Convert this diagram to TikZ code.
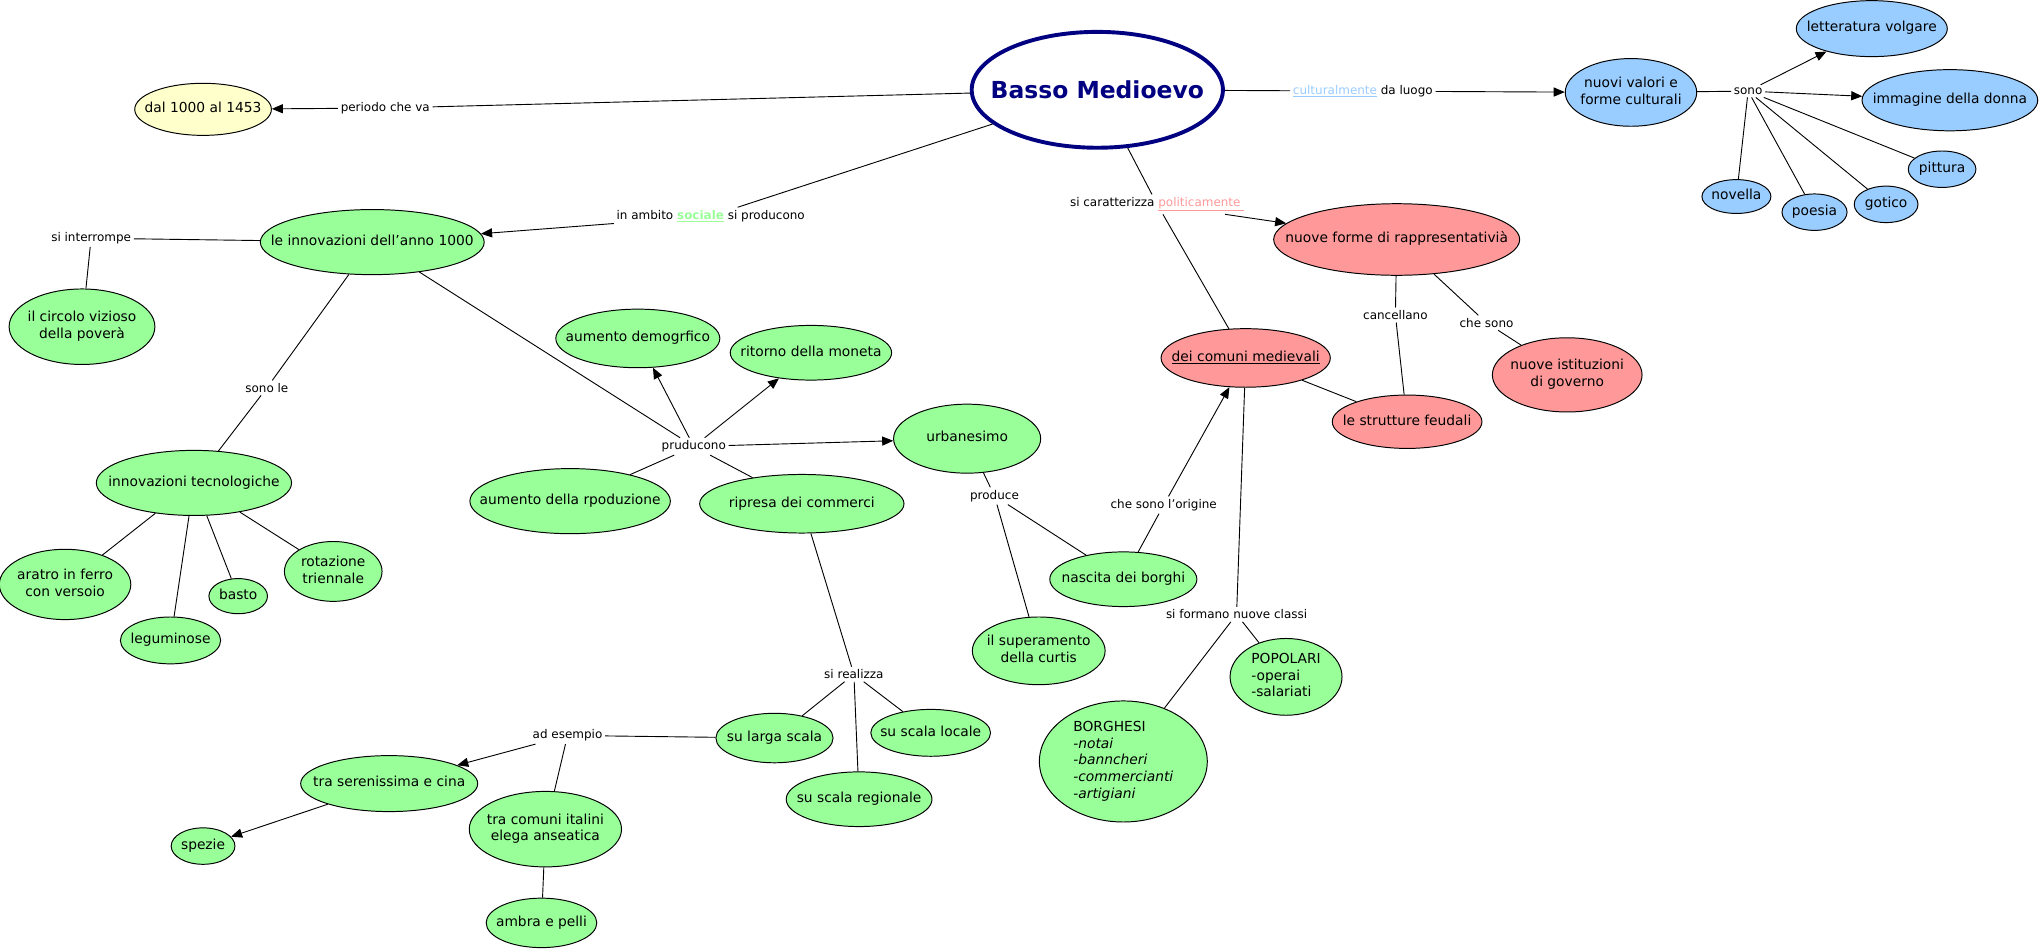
\documentclass[tikz,border=0pt]{standalone}
\usepackage{fontspec}
\setmainfont{DejaVu Sans}
\usetikzlibrary{shapes.geometric,arrows.meta}
\definecolor{verde}{RGB}{153,255,153}
\definecolor{rosa}{RGB}{255,153,153}
\definecolor{azzurro}{RGB}{153,204,255}
\definecolor{giallo}{RGB}{255,255,204}
\definecolor{blu}{RGB}{0,0,128}
\newcommand{\conceptfont}{\fontsize{10.6}{12.8}\selectfont}
\newcommand{\linkingfont}{\fontsize{9.2}{11}\selectfont}
\newcommand{\ctext}[1]{\makebox[0pt]{\begin{tabular}{@{}c@{}}#1\end{tabular}}}
\newcommand{\ltext}[1]{\makebox[0pt]{\begin{tabular}{@{}l@{}}#1\end{tabular}}}
\tikzset{
  concept/.style={ellipse, draw, line width=0.75pt, inner sep=0pt, font=\conceptfont},
  cgreen/.style={concept, fill=verde},
  cpink/.style={concept, fill=rosa},
  cblue/.style={concept, fill=azzurro},
  link/.style={font=\linkingfont, inner sep=2pt},
  conn/.style={line width=0.7pt},
  arr/.style={conn, -{Triangle[length=8.5pt,width=7pt]}}
}

\begin{document}
\begin{tikzpicture}[x=1pt,y=-1pt]
\useasboundingbox (0,0) rectangle (1568,730);
% concetti
\node[concept, draw=blu, line width=3pt, fill=white, minimum width=193pt, minimum height=89pt,
  font=\fontsize{18}{22}\selectfont\bfseries, text=blu] (basso) at (843,69) {\makebox[0pt]{Basso Medioevo}};
\node[concept, fill=giallo, minimum width=105pt, minimum height=40pt] (dal) at (156,84) {\ctext{dal 1000 al 1453}};
\node[cgreen, minimum width=172pt, minimum height=50pt] (innov) at (286,186) {\ctext{le innovazioni dell'anno 1000}};
\node[cgreen, minimum width=112pt, minimum height=58pt] (circolo) at (63,251) {\ctext{il circolo vizioso\\della poverà}};
\node[cgreen, minimum width=150pt, minimum height=50pt] (tecno) at (149,371) {\ctext{innovazioni tecnologiche}};
\node[cgreen, minimum width=101pt, minimum height=54pt] (aratro) at (50,449) {\ctext{aratro in ferro\\con versoio}};
\node[cgreen, minimum width=77pt, minimum height=36pt] (legum) at (131,492) {\ctext{leguminose}};
\node[cgreen, minimum width=45pt, minimum height=27pt] (basto) at (183,458) {\ctext{basto}};
\node[cgreen, minimum width=75pt, minimum height=46pt] (rotaz) at (256,439) {\ctext{rotazione\\triennale}};
\node[cgreen, minimum width=126pt, minimum height=45pt] (demog) at (490,260) {\ctext{aumento demogrfico}};
\node[cgreen, minimum width=124pt, minimum height=42pt] (moneta) at (623,271) {\ctext{ritorno della moneta}};
\node[cgreen, minimum width=113pt, minimum height=53pt] (urbano) at (743,337) {\ctext{urbanesimo}};
\node[cgreen, minimum width=154pt, minimum height=50pt] (produz) at (438,385) {\ctext{aumento della rpoduzione}};
\node[cgreen, minimum width=157pt, minimum height=45pt] (commerci) at (616,387) {\ctext{ripresa dei commerci}};
\node[cgreen, minimum width=113pt, minimum height=42pt] (borghi) at (863,445) {\ctext{nascita dei borghi}};
\node[cgreen, minimum width=102pt, minimum height=52pt] (curtis) at (798,500) {\ctext{il superamento\\della curtis}};
\node[cgreen, minimum width=129pt, minimum height=93pt] (borghesi) at (863,585)
  {\ltext{BORGHESI\\\textit{-notai}\\\textit{-banncheri}\\\textit{-commercianti}\\\textit{-artigiani}}};
\node[cgreen, minimum width=86pt, minimum height=59pt] (popolari) at (988,520) {\ltext{POPOLARI\\-operai\\-salariati}};
\node[cgreen, minimum width=90pt, minimum height=38pt] (larga) at (595,567) {\ctext{su larga scala}};
\node[cgreen, minimum width=92pt, minimum height=36pt] (locale) at (715,563) {\ctext{su scala locale}};
\node[cgreen, minimum width=112pt, minimum height=42pt] (region) at (660,614) {\ctext{su scala regionale}};
\node[cgreen, minimum width=136pt, minimum height=43pt] (seren) at (299,602) {\ctext{tra serenissima e cina}};
\node[cgreen, minimum width=49pt, minimum height=28pt] (spezie) at (156,650) {\ctext{spezie}};
\node[cgreen, minimum width=117pt, minimum height=58pt] (italini) at (419,637) {\ctext{tra comuni italini\\elega anseatica}};
\node[cgreen, minimum width=85pt, minimum height=38pt] (ambra) at (416,709) {\ctext{ambra e pelli}};
\node[cpink, minimum width=130pt, minimum height=45pt] (comuni) at (957,275) {\ctext{\underline{dei comuni medievali}}};
\node[cpink, minimum width=115pt, minimum height=41pt] (feudali) at (1081,324) {\ctext{le strutture feudali}};
\node[cpink, minimum width=189pt, minimum height=55pt] (forme) at (1073,184) {\ctext{nuove forme di rappresentativià}};
\node[cpink, minimum width=115pt, minimum height=57pt] (istituz) at (1204,288) {\ctext{nuove istituzioni\\di governo}};
\node[cblue, minimum width=101pt, minimum height=52pt] (valori) at (1253,71) {\ctext{nuovi valori e\\forme culturali}};
\node[cblue, minimum width=116pt, minimum height=43pt] (lettera) at (1438,22) {\ctext{letteratura volgare}};
\node[cblue, minimum width=135pt, minimum height=47pt] (donna) at (1498,77) {\ctext{immagine della donna}};
\node[cblue, minimum width=52pt, minimum height=28pt] (pittura) at (1492,130) {\ctext{pittura}};
\node[cblue, minimum width=49pt, minimum height=28pt] (gotico) at (1449,157) {\ctext{gotico}};
\node[cblue, minimum width=50pt, minimum height=28pt] (poesia) at (1394,163) {\ctext{poesia}};
\node[cblue, minimum width=53pt, minimum height=26pt] (novella) at (1334,151) {\ctext{novella}};
% frasi di legame
\node[link] (periodo) at (296,83) {periodo che va};
\node[link] (sociale) at (546,166) {in ambito \textcolor{verde}{\textbf{\underline{sociale}}} si producono};
\node[link] (interr) at (70,183) {si interrompe};
\node[link] (sonole) at (205,298) {sono le};
\node[link] (pruduc) at (533,343) {pruducono};
\node[link] (produce) at (764,381) {produce};
\node[link] (origine) at (894,388) {che sono l'origine};
\node[link] (classi) at (950,472) {si formano nuove classi};
\node[link] (politic) at (889,157) {si caratterizza \textcolor{rosa}{\underline{politicamente\ }}};
\node[link] (cancel) at (1072,242) {cancellano};
\node[link] (chesono) at (1142,248) {che sono};
\node[link] (cultur) at (1047,70) {\textcolor{azzurro}{\underline{culturalmente}} da luogo};
\node[link] (sono) at (1343,70) {sono};
\node[link] (realizza) at (656,518) {si realizza};
\node[link] (esempio) at (436,565) {ad esempio};
% collegamenti
\draw[conn] (basso) -- (periodo);
\draw[arr] (periodo) -- (dal);
\draw[conn] (basso) -- (sociale);
\draw[arr] (sociale) -- (innov);
\draw[conn] (basso) -- (politic);
\draw[arr] (politic) -- (forme);
\draw[conn] (politic) -- (comuni);
\draw[conn] (basso) -- (cultur);
\draw[arr] (cultur) -- (valori);
\draw[conn] (valori) -- (sono);
\draw[arr] (sono) -- (lettera);
\draw[arr] (sono) -- (donna);
\foreach \n in {pittura,gotico,poesia,novella}
  \draw[conn] (sono) -- (\n);
\draw[conn] (innov) -- (interr) -- (circolo);
\draw[conn] (innov) -- (sonole) -- (tecno);
\foreach \n in {aratro,legum,basto,rotaz}
  \draw[conn] (tecno) -- (\n);
\draw[conn] (innov) -- (pruduc);
\draw[arr] (pruduc) -- (demog);
\draw[arr] (pruduc) -- (moneta);
\draw[arr] (pruduc) -- (urbano);
\draw[conn] (pruduc) -- (produz);
\draw[conn] (pruduc) -- (commerci);
\draw[conn] (urbano) -- (produce);
\draw[conn] (produce) -- (borghi);
\draw[conn] (produce) -- (curtis);
\draw[conn] (borghi) -- (origine);
\draw[arr] (origine) -- (comuni);
\draw[conn] (comuni) -- (classi);
\draw[conn] (classi) -- (borghesi);
\draw[conn] (classi) -- (popolari);
\draw[conn] (comuni) -- (feudali);
\draw[conn] (forme) -- (cancel) -- (feudali);
\draw[conn] (forme) -- (chesono) -- (istituz);
\draw[conn] (commerci) -- (realizza);
\foreach \n in {larga,region,locale}
  \draw[conn] (realizza) -- (\n);
\draw[conn] (larga) -- (esempio);
\draw[arr] (esempio) -- (seren);
\draw[conn] (esempio) -- (italini);
\draw[arr] (seren) -- (spezie);
\draw[conn] (italini) -- (ambra);
\end{tikzpicture}
\end{document}
